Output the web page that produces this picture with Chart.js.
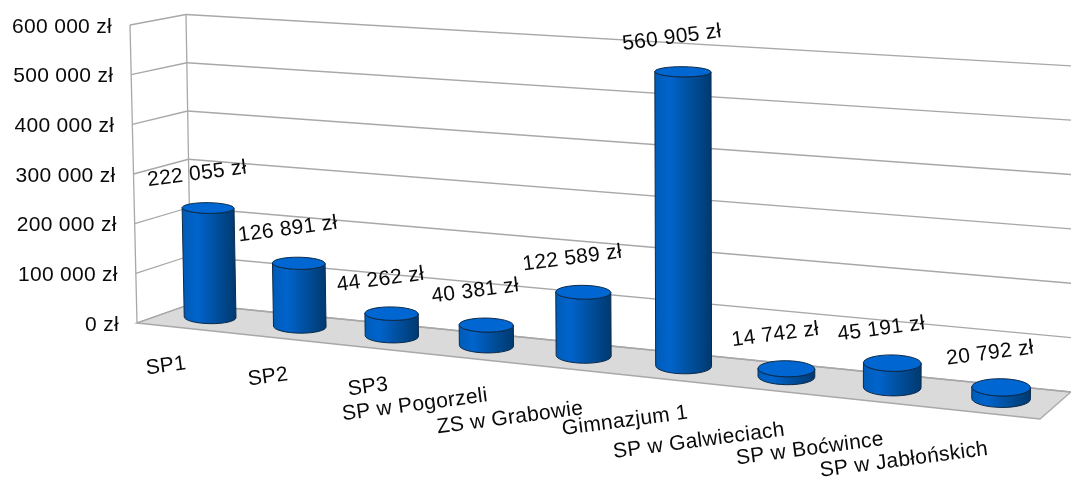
<!DOCTYPE html>
<html><head><meta charset="utf-8">
<style>html,body{margin:0;padding:0;background:#fff}canvas{display:block}</style>
<script src="https://cdn.jsdelivr.net/npm/chart.js@4"></script>
</head><body><canvas id="c" width="1071" height="484"></canvas>
<script>
const categories = ["SP1","SP2","SP3","SP w Pogorzeli","ZS w Grabowie","Gimnazjum 1","SP w Galwieciach","SP w Boćwince","SP w Jabłońskich"];
const values = [222055,126891,44262,40381,122589,560905,14742,45191,20792];
const yTicks = [0,100000,200000,300000,400000,500000,600000];

const FONT = '"Liberation Sans", Arial, sans-serif';
const FS = 21;
const fmt = v => String(v).replace(/\B(?=(\d{3})+$)/g,' ') + ' zł';

// floor corners of the 3D box on the page, and the offset to the top of the box at each
const A=[137,323],B=[1040,419],D=[1071,392],C=[191,304];
const vA=[-7,-298],vB=[3,-335],vD=[3,-326],vC=[-5,-289.5];
const WARP=0.1175;
const bil=(a,b,c,d,u,v,k)=>(a[k]*(1-u)+b[k]*u)*(1-v)+(c[k]*(1-u)+d[k]*u)*v;
const P=(t,d,s)=>{
  const u=t*(1-WARP)/(1-WARP*t);
  return [0,1].map(k=>bil(A,B,C,D,u,d,k)+s*bil(vA,vB,vC,vD,u,d,k));
};

// page position of each category label (centre)
const catLabelPos=[[166,366],[268,377],[368,387],[415,405],[510,418],[625,421],[699,441],[810,449],[904,460]];
const LABEL_ANGLE=-7.5*Math.PI/180;
const DEPTH=0.54, RD=0.33;

function line(ctx,p,q){ctx.beginPath();ctx.moveTo(p[0],p[1]);ctx.lineTo(q[0],q[1]);ctx.stroke();}

const threeD={
  id:'threeD',
  beforeDraw(chart){
    const {x:xs,y:ys}=chart.scales;
    chart.ctx.letterSpacing='0.3px';
    const sOf=v=>(ys.bottom-ys.getPixelForValue(v))/(ys.bottom-ys.top);
    ys.getLabelItems().forEach((it,i)=>{
      const p=P(0,0,sOf(ys.ticks[i].value));
      it.textOffset=0;
      it.options.textAlign='right';it.options.textBaseline='middle';
      it.options.translation=[p[0]-18,p[1]+2];
    });
    xs.getLabelItems().forEach((it,i)=>{
      it.textOffset=0;
      it.options.textAlign='center';it.options.textBaseline='middle';
      it.options.rotation=LABEL_ANGLE;
      it.options.translation=catLabelPos[i];
    });
  },
  beforeDatasetsDraw(chart){
    const ctx=chart.ctx,{y:ys}=chart.scales;
    ctx.save();
    ctx.beginPath();[P(0,0,0),P(1,0,0),P(1,1,0),P(0,1,0)].forEach((p,i)=>i?ctx.lineTo(p[0],p[1]):ctx.moveTo(p[0],p[1]));ctx.closePath();
    ctx.fillStyle='#DADADA';ctx.fill();
    ctx.strokeStyle='#A8A8A8';ctx.lineWidth=1.3;ctx.stroke();
    ys.ticks.forEach(tk=>{
      const s=(ys.bottom-ys.getPixelForValue(tk.value))/(ys.bottom-ys.top);
      line(ctx,P(0,0,s),P(0,1,s));line(ctx,P(0,1,s),P(1,1,s));
    });
    line(ctx,P(0,0,0),P(0,0,1));line(ctx,P(0,1,0),P(0,1,1));
    ctx.restore();
  },
  beforeDatasetDraw(chart,args){
    const ctx=chart.ctx,{x:xs,y:ys}=chart.scales;
    const W=xs.right-xs.left,Hh=ys.bottom-ys.top;
    ctx.save();
    args.meta.data.forEach(bar=>{
      const t=(bar.x-xs.left)/W,hw=bar.width/2/W*(1-.11*(t-.5)),s=(ys.bottom-bar.y)/Hh;
      const ell=s0=>{
        const a=P(t-hw,DEPTH,s0),b=P(t+hw,DEPTH,s0),c=P(t,DEPTH,s0);
        const rx=Math.hypot(b[0]-a[0],b[1]-a[1])/2;
        const rot=Math.atan2(b[1]-a[1],b[0]-a[0])*0.15;
        const ry=Math.abs(P(t,DEPTH+RD,s0)[1]-P(t,DEPTH-RD,s0)[1])/2;
        const ex=rx*Math.cos(rot),ey=rx*Math.sin(rot);
        return {l:[c[0]-ex,c[1]-ey],r:[c[0]+ex,c[1]+ey],cx:c[0],cy:c[1],rx,ry,rot};
      };
      const top=ell(s),bot=ell(0);
      const g=ctx.createLinearGradient(bot.l[0],0,bot.r[0],0);
      g.addColorStop(0,'#005CB8');g.addColorStop(.25,'#0064CC');g.addColorStop(.6,'#00509F');g.addColorStop(1,'#00396F');
      ctx.beginPath();
      ctx.moveTo(top.l[0],top.l[1]);ctx.lineTo(bot.l[0],bot.l[1]);
      ctx.ellipse(bot.cx,bot.cy,bot.rx,bot.ry,bot.rot,Math.PI,0,true);
      ctx.lineTo(top.r[0],top.r[1]);
      ctx.ellipse(top.cx,top.cy,top.rx,top.ry,top.rot,0,Math.PI,false);
      ctx.closePath();
      ctx.fillStyle=g;ctx.fill();
      ctx.strokeStyle='#0B2A4A';ctx.lineWidth=1;ctx.stroke();
      ctx.beginPath();ctx.ellipse(top.cx,top.cy,top.rx,top.ry,top.rot,0,Math.PI*2);
      ctx.fillStyle='#0066D2';ctx.fill();ctx.stroke();
    });
    ctx.restore();
    return false;
  },
  afterDatasetsDraw(chart){
    const ctx=chart.ctx,{x:xs,y:ys}=chart.scales;
    const W=xs.right-xs.left,Hh=ys.bottom-ys.top;
    ctx.save();
    ctx.font=FS+'px '+FONT;ctx.fillStyle='#0a0a0a';ctx.textAlign='center';ctx.textBaseline='middle';
    chart.getDatasetMeta(0).data.forEach((bar,i)=>{
      const p=P((bar.x-xs.left)/W,DEPTH,(ys.bottom-bar.y)/Hh);
      ctx.save();ctx.translate(p[0]-11,p[1]-34);ctx.rotate(LABEL_ANGLE);
      ctx.fillText(fmt(values[i]),0,0);ctx.restore();
    });
    ctx.restore();
  }
};

new Chart(document.getElementById('c'),{
  type:'bar',
  data:{labels:categories,datasets:[{label:'Kwota',data:values,backgroundColor:'#0064CC',categoryPercentage:1,barPercentage:0.555}]},
  plugins:[threeD],
  options:{
    responsive:false,animation:false,
    layout:{padding:{top:25,right:31,left:0,bottom:0}},
    plugins:{legend:{display:false},tooltip:{enabled:false}},
    scales:{
      x:{grid:{display:false},border:{display:false},
         afterFit(s){s.height=161;},
         ticks:{autoSkip:false,maxRotation:8,minRotation:8,color:'#0a0a0a',font:{family:FONT,size:FS}}},
      y:{min:0,max:600000,grid:{display:false},border:{display:false},
         afterFit(s){s.width=137;},
         afterBuildTicks(s){s.ticks=yTicks.map(value=>({value}));},
         ticks:{color:'#0a0a0a',font:{family:FONT,size:FS},callback:v=>fmt(v)}}
    }
  }
});
</script></body></html>
